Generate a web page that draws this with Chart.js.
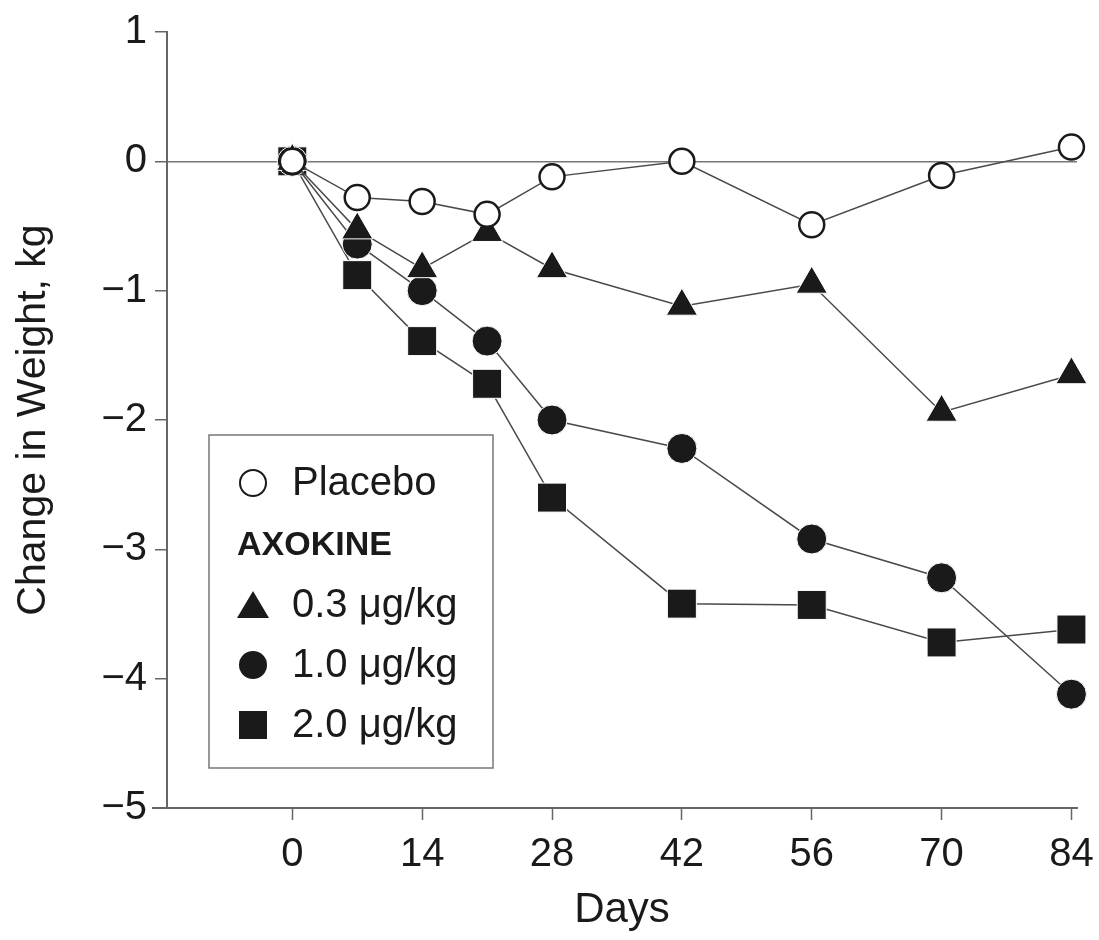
<!DOCTYPE html>
<html>
<head>
<meta charset="utf-8">
<script src="https://cdn.jsdelivr.net/npm/chart.js@4.4.1/dist/chart.umd.min.js"></script>
<style>
  html, body { margin: 0; padding: 0; background: #fff; }
  #wrap { width: 1099px; height: 940px; position: relative; }
</style>
</head>
<body>
<div id="wrap"><canvas id="weightChart"></canvas></div>
<script>
// Data
const days = [0, 7, 14, 21, 28, 42, 56, 70, 84];
const dayTicks = [0, 14, 28, 42, 56, 70, 84];
const yTicks = [1, 0, -1, -2, -3, -4, -5];

const placebo = [0, -0.28, -0.31, -0.41, -0.12, 0, -0.49, -0.11, 0.11];
const dose03 = [0, -0.53, -0.83, -0.55, -0.83, -1.12, -0.95, -1.94, -1.65];
const dose10 = [0, -0.64, -1.0, -1.39, -2.0, -2.22, -2.92, -3.22, -4.12];
const dose20 = [0, -0.88, -1.39, -1.72, -2.6, -3.42, -3.43, -3.72, -3.62];

const seriesNames = ['Placebo', '0.3 μg/kg', '1.0 μg/kg', '2.0 μg/kg'];
const groupTitle = 'AXOKINE';

const FONT = '"Liberation Sans", Arial, sans-serif';
const INK = '#1a1a1a';
const AXIS = '#666';
const LINE = '#4a4a4a';

function toPoints(values) {
  return days.map((d, i) => ({ x: d, y: values[i] }));
}

function makeSet(label, values, style, radius, filled) {
  return {
    label: label,
    data: toPoints(values),
    clip: false,
    borderColor: LINE,
    borderWidth: 1.5,
    pointStyle: style,
    pointRadius: radius,
    pointHoverRadius: radius,
    pointBackgroundColor: filled ? INK : '#fff',
    pointBorderColor: filled ? '#fff' : INK,
    pointBorderWidth: filled ? 1 : 2.5,
    tension: 0,
    fill: false
  };
}

// small legend box drawn inside the plot, like the figure's own key
const keyBox = {
  id: 'keyBox',
  afterDraw(chart) {
    const ctx = chart.ctx;
    const x0 = 209, y0 = 435, w = 284, h = 333;
    ctx.save();
    ctx.fillStyle = '#fff';
    ctx.fillRect(x0, y0, w, h);
    ctx.strokeStyle = '#777';
    ctx.lineWidth = 1.5;
    ctx.strokeRect(x0, y0, w, h);

    ctx.textBaseline = 'middle';
    ctx.textAlign = 'left';
    const mx = 253, tx = 292;
    const rows = [483, 605, 665, 725];

    // placebo: open circle
    ctx.beginPath();
    ctx.arc(mx, rows[0], 13, 0, Math.PI * 2);
    ctx.fillStyle = '#fff';
    ctx.fill();
    ctx.strokeStyle = INK;
    ctx.lineWidth = 2;
    ctx.stroke();

    ctx.fillStyle = INK;
    // triangle
    ctx.beginPath();
    ctx.moveTo(mx, rows[1] - 14);
    ctx.lineTo(mx + 16, rows[1] + 13);
    ctx.lineTo(mx - 16, rows[1] + 13);
    ctx.closePath();
    ctx.fill();
    // filled circle
    ctx.beginPath();
    ctx.arc(mx, rows[2], 14, 0, Math.PI * 2);
    ctx.fill();
    // square
    ctx.fillRect(mx - 14, rows[3] - 14, 28, 28);

    ctx.font = '40px ' + FONT;
    seriesNames.forEach((name, i) => ctx.fillText(name, tx, rows[i] + 1));

    ctx.font = 'bold 34px ' + FONT;
    ctx.fillText(groupTitle, 237, 546);
    ctx.restore();
  }
};

// the x axis line runs a little past the y axis on the left
const axisStub = {
  id: 'axisStub',
  afterDraw(chart) {
    const a = chart.chartArea;
    const ctx = chart.ctx;
    ctx.save();
    ctx.strokeStyle = AXIS;
    ctx.lineWidth = 2;
    ctx.beginPath();
    ctx.moveTo(a.left - 15, a.bottom);
    ctx.lineTo(a.left, a.bottom);
    ctx.stroke();
    ctx.restore();
  }
};

const ctx = document.getElementById('weightChart').getContext('2d');
new Chart(ctx, {
  type: 'line',
  data: {
    datasets: [
      makeSet(seriesNames[0], placebo, 'circle', 12.5, false),
      makeSet(seriesNames[1], dose03, 'triangle', 18, true),
      makeSet(seriesNames[2], dose10, 'circle', 15, true),
      makeSet(seriesNames[3], dose20, 'rect', 20.5, true)
    ]
  },
  options: {
    responsive: true,
    maintainAspectRatio: false,
    animation: false,
    layout: { padding: { top: 25, right: 4, left: 0, bottom: 0 } },
    plugins: {
      legend: { display: false },
      tooltip: { enabled: false }
    },
    scales: {
      x: {
        type: 'linear',
        min: -13.51,
        max: 84.6,
        afterBuildTicks: axis => { axis.ticks = dayTicks.map(v => ({ value: v })); },
        afterFit: axis => {
          axis.height = 132;
          axis.paddingLeft = 0;
          axis.paddingRight = 22;
        },
        grid: { drawOnChartArea: false, tickColor: AXIS, tickLength: 12, tickWidth: 1.5 },
        border: { display: true, color: AXIS, width: 2 },
        ticks: { color: INK, font: { family: FONT, size: 40 }, padding: 11, maxRotation: 0 },
        title: { display: true, text: 'Days', color: INK, font: { family: FONT, size: 42 }, padding: { top: 0, bottom: 4 } }
      },
      y: {
        min: -5,
        max: 1,
        afterBuildTicks: axis => { axis.ticks = yTicks.map(v => ({ value: v })); },
        afterFit: axis => { axis.width = 167; },
        grid: {
          drawOnChartArea: true,
          color: c => (c.tick && c.tick.value === 0 ? '#777' : 'rgba(0,0,0,0)'),
          lineWidth: 1.5,
          tickColor: AXIS,
          tickLength: 12,
          tickWidth: 1.5
        },
        border: { display: true, color: AXIS, width: 2 },
        ticks: {
          color: INK,
          font: { family: FONT, size: 40 },
          padding: 8,
          callback: v => (v < 0 ? '\u2212' + Math.abs(v) : String(v))
        },
        title: { display: true, text: 'Change in Weight, kg', color: INK, font: { family: FONT, size: 41 }, padding: { top: 9, bottom: 0 } }
      }
    }
  },
  plugins: [keyBox, axisStub]
});
</script>
</body>
</html>
